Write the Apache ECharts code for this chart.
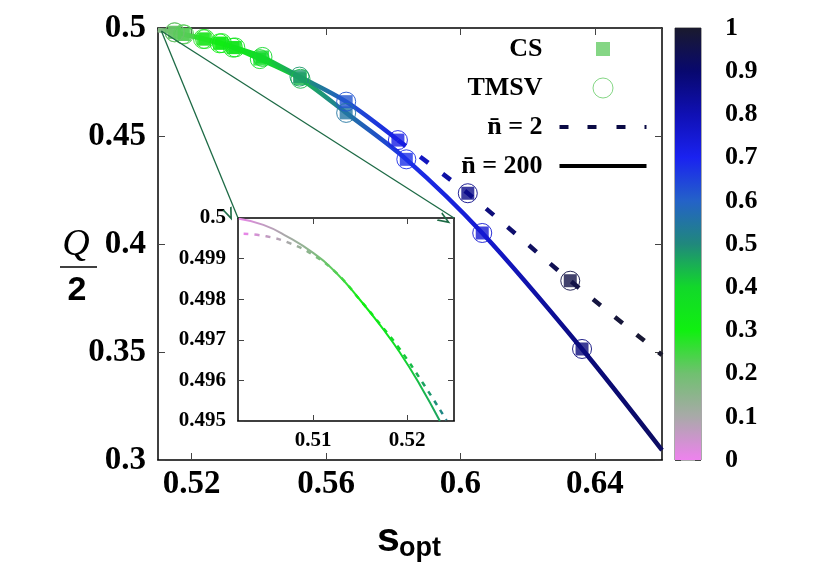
<!DOCTYPE html>
<html>
<head>
<meta charset="utf-8">
<script src="https://cdn.jsdelivr.net/npm/echarts@6/dist/echarts.min.js"></script>
<style>
  html, body { margin: 0; padding: 0; background: #fff; }
  #chart { width: 830px; height: 581px; }
</style>
</head>
<body>
<div id="chart"></div>
<script>
// colour box, sampled at 0, 0.1, ..., 1
const paletteColors = ['#ee82ee', '#a9a9a9', '#70c070', '#10f010', '#12d82a', '#20887c',
  '#2462c8', '#1a22f0', '#1010b4', '#08086e', '#1a1a2e'];

// main panel, nbar = 200 (solid)
const n200X = [0.5100, 0.5149, 0.5174, 0.5234, 0.5283, 0.5323, 0.5403, 0.5524, 0.5660, 0.5839, 0.6065, 0.6362, 0.6600];
const n200Y = [0.4991, 0.4980, 0.4971, 0.4949, 0.4929, 0.4909, 0.4856, 0.4765, 0.4607, 0.4392, 0.4051, 0.3514, 0.3046];
const n200T = [0.15, 0.20, 0.22, 0.27, 0.31, 0.34, 0.38, 0.44, 0.55, 0.68, 0.75, 0.88, 0.92];

// main panel, nbar = 2 (dashed)
const n2X = [0.5100, 0.5150, 0.5178, 0.5240, 0.5290, 0.5330, 0.5411, 0.5521, 0.5660, 0.5814, 0.6022, 0.6327, 0.6600];
const n2Y = [0.4991, 0.4980, 0.4970, 0.4949, 0.4930, 0.4910, 0.4866, 0.4775, 0.4659, 0.4481, 0.4235, 0.3830, 0.3486];
const n2T = [0.15, 0.21, 0.23, 0.28, 0.32, 0.35, 0.40, 0.48, 0.62, 0.72, 0.86, 0.96, 1.00];
const n2DashFrom = 0.5814; // sparse part of the curve, where the dashes show

// CS / TMSV points (same states on both curves)
const mark200X = [0.5149, 0.5174, 0.5234, 0.5283, 0.5323, 0.5403, 0.5524, 0.5660, 0.5839, 0.6065, 0.6362];
const mark200Y = [0.4980, 0.4971, 0.4949, 0.4929, 0.4909, 0.4856, 0.4765, 0.4607, 0.4392, 0.4051, 0.3514];
const mark200T = [0.20, 0.22, 0.27, 0.31, 0.34, 0.38, 0.44, 0.55, 0.68, 0.75, 0.88];
const mark2X = [0.5150, 0.5178, 0.5240, 0.5290, 0.5330, 0.5411, 0.5521, 0.5660, 0.5814, 0.6022, 0.6327];
const mark2Y = [0.4980, 0.4970, 0.4949, 0.4930, 0.4910, 0.4866, 0.4775, 0.4659, 0.4481, 0.4235, 0.3830];
const mark2T = [0.21, 0.23, 0.28, 0.32, 0.35, 0.40, 0.48, 0.62, 0.72, 0.86, 0.96];

// inset (zoom near s = 0.5)
const inset200X = [0.5021, 0.5047, 0.5072, 0.5100, 0.5125, 0.5150, 0.5174, 0.5192, 0.5213, 0.5235];
const inset200Y = [0.49998, 0.49983, 0.49955, 0.49914, 0.49864, 0.49798, 0.49728, 0.49670, 0.49592, 0.49500];
const inset200T = [0.00, 0.06, 0.10, 0.16, 0.23, 0.30, 0.35, 0.40, 0.44, 0.47];
const inset2X = [0.5026, 0.5050, 0.5075, 0.5100, 0.5125, 0.5150, 0.5175, 0.5192, 0.5217, 0.5242];
const inset2Y = [0.49961, 0.49955, 0.49938, 0.49909, 0.49864, 0.49798, 0.49728, 0.49678, 0.49593, 0.49502];
const inset2T = [0.00, 0.06, 0.10, 0.16, 0.23, 0.30, 0.36, 0.41, 0.47, 0.53];

const mainXTicks = [0.52, 0.56, 0.6, 0.64];
const insetXTicks = [0.51, 0.52];
const zoomFrom = [0.511, 0.4986];

const SERIF = 'Liberation Serif';
const mainGrid = { left: 158, top: 28, width: 504, height: 432 };
const insetGrid = { left: 238, top: 218, width: 216, height: 203 };
const barGrid = { left: 675, top: 28, width: 26, height: 432 };

function paletteAt(t) {
  return echarts.color.lerp(Math.max(0, Math.min(1, t)), paletteColors);
}
// colour along a curve, left to right
function gradientFor(xs, ts) {
  const x0 = xs[0], x1 = xs[xs.length - 1];
  return new echarts.graphic.LinearGradient(0, 0, 1, 0,
    xs.map((x, i) => ({ offset: (x - x0) / (x1 - x0), color: paletteAt(ts[i]) })));
}
function pairs(xs, ys) {
  return xs.map((x, i) => [x, ys[i]]);
}
function squares(xs, ys, ts) {
  return xs.map((x, i) => ({ value: [x, ys[i]], itemStyle: { color: paletteAt(ts[i]) } }));
}
function rings(xs, ys, ts) {
  return xs.map((x, i) => ({
    value: [x, ys[i]],
    itemStyle: { color: 'rgba(0,0,0,0)', borderColor: paletteAt(ts[i]), borderWidth: 1, opacity: 0.9 }
  }));
}

const n2Solid = n2X.filter(x => x <= n2DashFrom).length;
const n2SolidX = n2X.slice(0, n2Solid), n2SolidY = n2Y.slice(0, n2Solid), n2SolidT = n2T.slice(0, n2Solid);
const n2DashX = n2X.slice(n2Solid - 1), n2DashY = n2Y.slice(n2Solid - 1), n2DashT = n2T.slice(n2Solid - 1);

const tickLabel = (size) => ({ fontFamily: SERIF, fontWeight: 'bold', fontSize: size, color: '#000' });
const frame = { show: true, onZero: false, lineStyle: { color: '#000', width: 1.5 } };
const innerTick = (len, values) => {
  const t = { show: true, inside: true, length: len, lineStyle: { color: '#444', width: 1 } };
  if (values) t.customValues = values;
  return t;
};

const chart = echarts.init(document.getElementById('chart'));

const option = {
  animation: false,
  backgroundColor: '#fff',
  grid: [
    Object.assign({ show: false }, mainGrid),
    Object.assign({ show: true, backgroundColor: '#fff', borderWidth: 0 }, insetGrid),
    Object.assign({ show: true, borderColor: '#555', borderWidth: 1 }, barGrid)
  ],
  xAxis: [
    {
      type: 'value', gridIndex: 0, min: 0.51, max: 0.66,
      axisLine: frame, axisTick: innerTick(7, mainXTicks), splitLine: { show: false },
      axisLabel: Object.assign({ customValues: mainXTicks, margin: 8 }, tickLabel(33))
    },
    {
      type: 'value', gridIndex: 0, position: 'top', min: 0.51, max: 0.66,
      axisLine: frame, axisTick: innerTick(7, mainXTicks), splitLine: { show: false },
      axisLabel: { show: false }
    },
    {
      type: 'value', gridIndex: 1, min: 0.502, max: 0.525,
      axisLine: frame, axisTick: innerTick(6, insetXTicks), splitLine: { show: false },
      axisLabel: Object.assign({ customValues: insetXTicks, margin: 9 }, tickLabel(21))
    },
    {
      type: 'value', gridIndex: 1, position: 'top', min: 0.502, max: 0.525,
      axisLine: frame, axisTick: innerTick(6, insetXTicks), splitLine: { show: false },
      axisLabel: { show: false }
    },
    { type: 'category', gridIndex: 2, data: ['cb'], show: false }
  ],
  yAxis: [
    {
      type: 'value', gridIndex: 0, min: 0.3, max: 0.5, interval: 0.05,
      axisLine: frame, axisTick: innerTick(7), splitLine: { show: false },
      axisLabel: Object.assign({ margin: 12 }, tickLabel(33))
    },
    {
      type: 'value', gridIndex: 0, position: 'right', min: 0.3, max: 0.5, interval: 0.05,
      axisLine: frame, axisTick: innerTick(7), splitLine: { show: false },
      axisLabel: { show: false }
    },
    {
      type: 'value', gridIndex: 1, min: 0.495, max: 0.5, interval: 0.001,
      axisLine: frame, axisTick: innerTick(6), splitLine: { show: false },
      axisLabel: Object.assign({ margin: 12 }, tickLabel(21))
    },
    {
      type: 'value', gridIndex: 1, position: 'right', min: 0.495, max: 0.5, interval: 0.001,
      axisLine: frame, axisTick: innerTick(6), splitLine: { show: false },
      axisLabel: { show: false }
    },
    {
      type: 'value', gridIndex: 2, position: 'right', min: 0, max: 1, interval: 0.1,
      axisLine: { show: false }, axisTick: innerTick(6), splitLine: { show: false },
      axisLabel: Object.assign({ margin: 24 }, tickLabel(26))
    },
    {
      type: 'value', gridIndex: 2, position: 'left', min: 0, max: 1, interval: 0.1,
      axisLine: { show: false }, axisTick: innerTick(6), splitLine: { show: false },
      axisLabel: { show: false }
    }
  ],
  legend: {
    orient: 'vertical', align: 'right', right: 183, top: 36, padding: 0,
    itemWidth: 87, itemHeight: 20, itemGap: 13, selectedMode: false,
    textStyle: { fontFamily: SERIF, fontWeight: 'bold', fontSize: 26, color: '#000', padding: [0, 12, 0, 0] },
    data: [
      { name: 'CS', icon: 'path://M0,0M87,20M36.5,3h14v14h-14z',
        itemStyle: { color: '#66cc66', borderColor: 'rgba(0,0,0,0)', borderWidth: 0 } },
      { name: 'TMSV', icon: 'path://M0,0M87,20M33.5,10a10,10 0 1,0 20,0a10,10 0 1,0 -20,0z',
        itemStyle: { color: 'rgba(0,0,0,0)', borderColor: '#66cc66', borderWidth: 1 } },
      { name: 'n\u0304 = 2', icon: 'path://M0,0M87,20M0,8h9v4h-9zM28,8h9v4h-9zM57,8h9v4h-9zM85,8h2v4h-2z',
        itemStyle: { color: '#0a0a44', borderColor: 'rgba(0,0,0,0)', borderWidth: 0 } },
      { name: 'n\u0304 = 200', icon: 'path://M0,0M87,20M0,8h87v4h-87z',
        itemStyle: { color: '#000', borderColor: 'rgba(0,0,0,0)', borderWidth: 0 } }
    ]
  },
  graphic: [
    { type: 'text', x: 76, y: 245, style: { text: 'Q', font: 'italic 38px "Liberation Serif"', fill: '#000', align: 'center', verticalAlign: 'middle' } },
    { type: 'line', shape: { x1: 60, y1: 267, x2: 97, y2: 267 }, style: { stroke: '#000', lineWidth: 1.5 } },
    { type: 'text', x: 77, y: 291, style: { text: '2', font: 'bold 34px "Liberation Sans"', fill: '#000', align: 'center', verticalAlign: 'middle' } },
    { type: 'text', x: 377, y: 540, style: { text: 's', font: 'bold 41px "Liberation Sans"', fill: '#000', align: 'left', verticalAlign: 'middle' } },
    { type: 'text', x: 399, y: 549, style: { text: 'opt', font: 'bold 27px "Liberation Sans"', fill: '#000', align: 'left', verticalAlign: 'middle' } }
  ],
  series: [
    {
      name: 'n\u0304 = 200', type: 'line', xAxisIndex: 0, yAxisIndex: 0,
      data: pairs(n200X, n200Y), symbol: 'none', smooth: 0.3, z: 2,
      lineStyle: { width: 4.5, color: gradientFor(n200X, n200T) },
      markLine: {
        silent: true, animation: false,
        symbol: ['none', 'path://M5,0L10,13L8.2,13L5,4.5L1.8,13L0,13Z'],
        symbolSize: [10, 13], symbolOffset: [0, 6.5],
        label: { show: false },
        lineStyle: { color: '#1d6a45', width: 1.3, type: 'solid' },
        emphasis: { disabled: true },
        data: [
          [{ coord: zoomFrom }, { x: insetGrid.left, y: insetGrid.top }],
          [{ coord: zoomFrom }, { x: insetGrid.left + insetGrid.width, y: insetGrid.top }]
        ]
      }
    },
    {
      name: 'n\u0304 = 2', type: 'line', xAxisIndex: 0, yAxisIndex: 0,
      data: pairs(n2SolidX, n2SolidY), symbol: 'none', smooth: 0.3, z: 2,
      lineStyle: { width: 4.5, color: gradientFor(n2SolidX, n2SolidT) }
    },
    {
      name: 'n\u0304 = 2', type: 'line', xAxisIndex: 0, yAxisIndex: 0,
      data: pairs(n2DashX, n2DashY), symbol: 'none', smooth: 0.2, z: 2,
      lineStyle: { width: 4.5, type: [10, 18], cap: 'butt', color: gradientFor(n2DashX, n2DashT) }
    },
    {
      name: 'CS', type: 'scatter', xAxisIndex: 0, yAxisIndex: 0, symbol: 'rect', symbolSize: 13, z: 3,
      data: squares(mark200X, mark200Y, mark200T).concat(squares(mark2X, mark2Y, mark2T))
    },
    {
      name: 'TMSV', type: 'scatter', xAxisIndex: 0, yAxisIndex: 0, symbol: 'circle', symbolSize: 19, z: 4,
      data: rings(mark200X, mark200Y, mark200T).concat(rings(mark2X, mark2Y, mark2T))
    },
    {
      name: 'n\u0304 = 2', type: 'line', xAxisIndex: 2, yAxisIndex: 2,
      data: pairs(inset2X, inset2Y), symbol: 'none', smooth: 0.5, z: 2,
      lineStyle: { width: 2.5, type: [5, 6], cap: 'butt', color: gradientFor(inset2X, inset2T) }
    },
    {
      name: 'n\u0304 = 200', type: 'line', xAxisIndex: 2, yAxisIndex: 2,
      data: pairs(inset200X, inset200Y), symbol: 'none', smooth: 0.5, z: 3,
      lineStyle: { width: 2, color: gradientFor(inset200X, inset200T) }
    },
    {
      type: 'bar', xAxisIndex: 4, yAxisIndex: 4, data: [1], barWidth: '100%', silent: true,
      itemStyle: {
        color: new echarts.graphic.LinearGradient(0, 1, 0, 0,
          paletteColors.map((c, i) => ({ offset: i / (paletteColors.length - 1), color: c })))
      }
    }
  ]
};

chart.setOption(option);
</script>
</body>
</html>
